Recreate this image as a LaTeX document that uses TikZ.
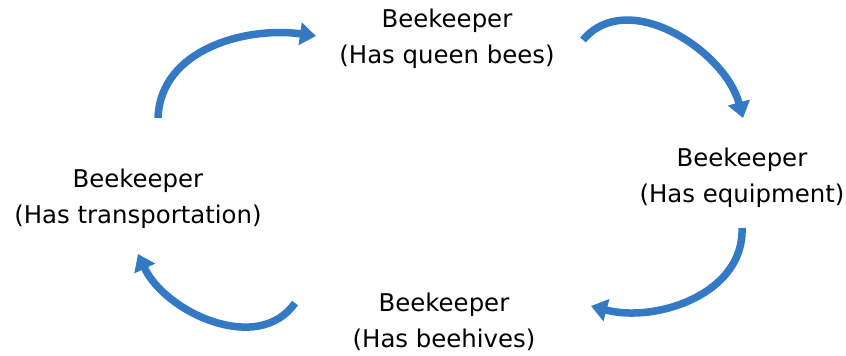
\documentclass[tikz,border=0pt]{standalone}
\usepackage{fontspec}
\setmainfont{DejaVu Sans}
\usetikzlibrary{arrows.meta}
\definecolor{arrowblue}{RGB}{52,121,196}
\tikzset{
  keeper/.style={align=center,font=\fontsize{24.4}{36}\selectfont},
  cycle/.style={draw=arrowblue,line width=7.5pt,-{Triangle[width=22pt,length=16pt]}}
}
\begin{document}
\begin{tikzpicture}[x=1pt,y=1pt]
        \useasboundingbox (0,0) rectangle (846,356);
        %% beekeepers
        \node[keeper] (queen) at (447,317) {Beekeeper\\(Has queen bees)};
        \node[keeper] (equip) at (742,178) {Beekeeper\\(Has equipment)};
        \node[keeper] (hives) at (444,34) {Beekeeper\\(Has beehives)};
        \node[keeper] (transport) at (138,157) {Beekeeper\\(Has transportation)};
        %% arrow ends
        \coordinate (t1) at (158,238); \coordinate (h1) at (316,320);
        \coordinate (t2) at (583,316); \coordinate (h2) at (743,238);
        \coordinate (t3) at (742,128); \coordinate (h3) at (591,50);
        \coordinate (t4) at (295,53);  \coordinate (h4) at (138,102);
        %% arrows
        \draw[cycle] (t1) to[out=88,in=172] (h1);
        \draw[cycle] (t2) to[out=50,in=105] (h2);
        \draw[cycle] (t3) to[out=-88,in=-15] (h3);
        \draw[cycle] (t4) to[out=-125,in=-65] (h4);
\end{tikzpicture}
\end{document}
